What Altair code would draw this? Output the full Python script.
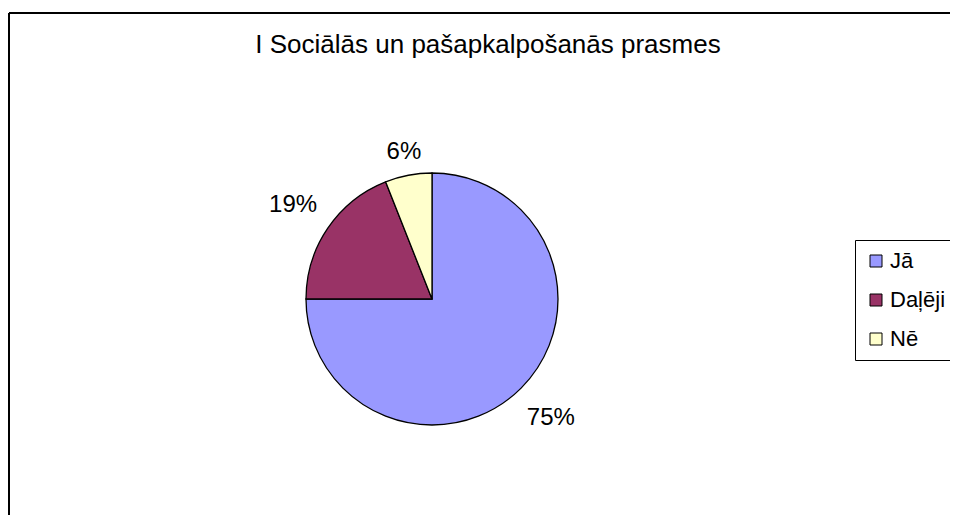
import altair as alt
import pandas as pd

categories = ["Jā", "Daļēji", "Nē"]
values = [75, 19, 6]
labels = ["75%", "19%", "6%"]
colors = ["#9999FF", "#993366", "#FFFFCC"]
title_text = "I Sociālās un pašapkalpošanās prasmes"

df = pd.DataFrame({"cat": categories, "v": values, "lbl": labels, "i": list(range(len(categories)))})

W, H = 941, 502
CX, CY = 423, 286
FONT = "Liberation Sans"

base = alt.Chart(df)

pie = base.mark_arc(outerRadius=126, stroke="black", strokeWidth=1.3).encode(
    theta=alt.Theta("v:Q", stack=True),
    color=alt.Color(
        "cat:N",
        scale=alt.Scale(domain=categories, range=colors),
        sort=categories,
        legend=alt.Legend(
            title=None,
            orient="none",
            legendX=846,
            legendY=227,
            symbolType="square",
            symbolSize=144,
            symbolStrokeColor="black",
            symbolStrokeWidth=1,
            labelFont=FONT,
            labelFontSize=22,
            labelColor="black",
            labelOffset=3,
            rowPadding=17,
            padding=10,
            strokeColor="black",
        ),
    ),
    order=alt.Order("i:Q"),
    x=alt.value(CX),
    y=alt.value(CY),
)

pct = (
    base.transform_joinaggregate(total="sum(v)")
    .transform_window(cum="sum(v)", sort=[alt.SortField("i")], frame=[None, 0])
    .transform_calculate(
        ang="2 * PI * (datum.cum - datum.v / 2) / datum.total",
        lr="datum.v < 10 ? 150 : 168",
    )
    .mark_text(font=FONT, fontSize=24, color="black", align="center", baseline="middle")
    .encode(
        theta=alt.Theta("ang:Q", scale=None),
        radius=alt.Radius("lr:Q", scale=None),
        text="lbl:N",
        x=alt.value(CX),
        y=alt.value(CY),
    )
)

one = alt.Chart(pd.DataFrame({"a": [0]}))
title = one.mark_text(font=FONT, fontSize=26, color="black", align="center", baseline="alphabetic").encode(
    x=alt.value(479), y=alt.value(40), text=alt.value(title_text)
)
top_border = one.mark_rule(color="black", strokeWidth=2).encode(
    x=alt.value(0), x2=alt.value(W + 5), y=alt.value(0)
)
left_border = one.mark_rule(color="black", strokeWidth=2).encode(
    x=alt.value(0), y=alt.value(0), y2=alt.value(H + 5)
)

chart = alt.layer(top_border, left_border, pie, pct, title).properties(
    width=W,
    height=H,
    padding={"left": 1, "top": 5, "right": 0, "bottom": 0},
    autosize=alt.AutoSizeParams(type="none"),
).configure_view(stroke=None).configure_legend(strokeWidth=1)

chart.save("out.html", embed_options={"renderer": "svg", "actions": False})
